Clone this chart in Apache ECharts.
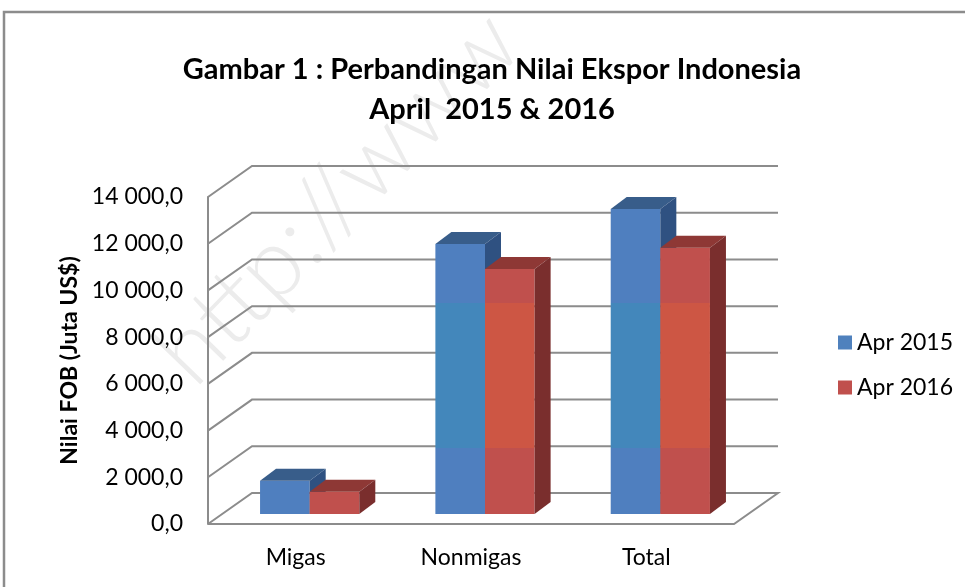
<!DOCTYPE html>
<html>
<head>
<meta charset="utf-8">
<script src="https://cdn.jsdelivr.net/npm/echarts@6/dist/echarts.min.js"></script>
<style>
  html, body { margin: 0; padding: 0; background: #fff; }
  #chart { width: 965px; height: 587px; }
</style>
</head>
<body>
<div id="chart"></div>
<script>
// data
var categories = ["Migas", "Nonmigas", "Total"];
var apr2015 = [1420, 11560, 13060];
var apr2016 = [950, 10490, 11400];
var yTicks = [0, 2000, 4000, 6000, 8000, 10000, 12000, 14000];

// 3d look (pixels)
var DX = 44, DY = -31;   // back wall offset
var FX = 14, FY = -10;   // bar front plane offset
var BX = 16, BY = -12;   // bar depth

var chart = echarts.init(document.getElementById("chart"));

function fmt(v) {
  var s = Math.round(v).toString().replace(/\B(?=(\d{3})+(?!\d))/g, " ");
  return s + ",0";
}

function wallItem(params, api) {
  var cs = params.coordSys;
  var y = api.coord([0, api.value(1)])[1];
  var st = { stroke: "#8c8c8c", lineWidth: 2, fill: null };
  var pts = [[cs.x, y], [cs.x + DX, y + DY], [cs.x + cs.width + DX, y + DY]];
  if (api.value(1) === 0) {
    pts.push([cs.x + cs.width, y]);
    pts.push([cs.x, y]);
  }
  return { type: "polyline", shape: { points: pts }, style: st };
}

function barRenderer(side, cols) {
  return function (params, api) {
    var cs = params.coordSys;
    var i = api.value(0);
    var top = api.coord([i, api.value(1)]);
    var base = api.coord([i, 0]);
    var w = api.size([1, 0])[0] * 0.283;
    var x0 = (side === 0 ? top[0] - w : top[0]) + FX;
    var x1 = x0 + w;
    var yt = top[1] + FY, yb = base[1] + FY;
    // lighting band across the plot, as in the original
    var b0 = (cs.y + cs.height * 0.324 - yt) / (yb - yt);
    var b1 = (cs.y + cs.height * 0.768 - yt) / (yb - yt);
    function clamp(t) { return Math.max(0, Math.min(1, t)); }
    var stops = [
      { offset: 0, color: cols.front },
      { offset: clamp(b0), color: cols.front },
      { offset: clamp(b0), color: cols.mid },
      { offset: clamp(b1), color: cols.mid },
      { offset: clamp(b1), color: cols.front },
      { offset: 1, color: cols.front }
    ];
    return {
      type: "group",
      children: [
        {
          type: "rect",
          shape: { x: x0, y: yt, width: w, height: yb - yt },
          style: { fill: new echarts.graphic.LinearGradient(0, 0, 0, 1, stops) }
        },
        {
          type: "polygon",
          shape: { points: [[x0, yt], [x1, yt], [x1 + BX, yt + BY], [x0 + BX, yt + BY]] },
          style: { fill: cols.top }
        },
        {
          type: "polygon",
          shape: { points: [[x1, yt], [x1, yb], [x1 + BX, yb + BY], [x1 + BX, yt + BY]] },
          style: { fill: cols.side }
        }
      ]
    };
  };
}

var blue = { front: "#4F7FBF", mid: "#4387BB", top: "#385D8A", side: "#2F5181" };
var red = { front: "#C0504D", mid: "#CD5644", top: "#8E3835", side: "#7A2E2D" };

chart.setOption({
  animation: false,
  textStyle: { fontFamily: "Lato" },
  graphic: [
    {
      type: "rect",
      shape: { x: 4, y: 12, width: 1000, height: 620 },
      style: { fill: null, stroke: "#8c8c8c", lineWidth: 2.5 },
      z: -10
    },
    {
      type: "text",
      x: 138, y: 335,
      rotation: 0.8,
      style: { text: "http://www", font: "300 96px Lato", fill: "#ececec" },
      z: -5
    },
    {
      type: "text",
      x: 492, y: 50,
      style: {
        text: "Gambar 1 : Perbandingan Nilai Ekspor Indonesia\nApril  2015 & 2016",
        font: "bold 29px Lato",
        fill: "#000",
        textAlign: "center",
        lineHeight: 40
      }
    }
  ],
  legend: {
    orient: "vertical",
    left: 833,
    top: 326,
    itemWidth: 14,
    itemHeight: 14,
    itemGap: 22,
    icon: "rect",
    textStyle: { fontSize: 23, color: "#000", fontFamily: "Lato" },
    data: ["Apr 2015", "Apr 2016"]
  },
  grid: { left: 208, right: 231, top: 197, bottom: 63 },
  xAxis: {
    type: "category",
    data: categories,
    axisLine: { show: false },
    axisTick: { show: false },
    axisLabel: { fontSize: 23, color: "#000", margin: 22 }
  },
  yAxis: {
    type: "value",
    min: 0,
    max: 14000,
    interval: 2000,
    name: "Nilai FOB (Juta US$)",
    nameLocation: "middle",
    nameRotate: 90,
    nameGap: 127,
    nameTextStyle: { fontSize: 23, fontWeight: "bold", color: "#000" },
    axisLine: { show: true, lineStyle: { color: "#8c8c8c", width: 2 } },
    axisTick: { show: false },
    splitLine: { show: false },
    axisLabel: { fontSize: 23, color: "#000", margin: 25, formatter: fmt }
  },
  series: [
    {
      type: "custom",
      name: "walls",
      renderItem: wallItem,
      data: yTicks.map(function (v) { return [0, v]; }),
      z: 1,
      silent: true
    },
    {
      type: "custom",
      name: "Apr 2015",
      itemStyle: { color: "#4F81BD" },
      renderItem: barRenderer(0, blue),
      data: categories.map(function (c, i) { return [i, apr2015[i]]; }),
      z: 2
    },
    {
      type: "custom",
      name: "Apr 2016",
      itemStyle: { color: "#C0504D" },
      renderItem: barRenderer(1, red),
      data: categories.map(function (c, i) { return [i, apr2016[i]]; }),
      z: 3
    }
  ]
});
</script>
</body>
</html>
